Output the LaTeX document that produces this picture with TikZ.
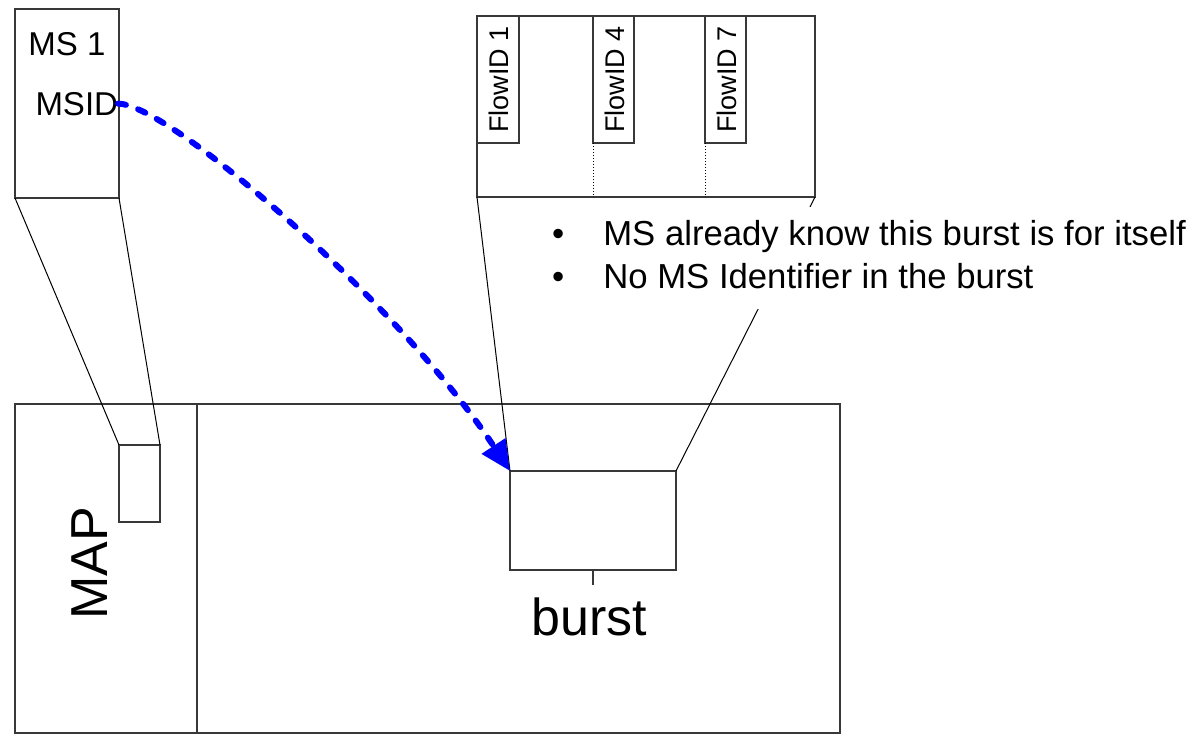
\documentclass[tikz,border=0pt]{standalone}
\usepackage{fontspec}
\setmainfont{Liberation Sans}
\usetikzlibrary{arrows.meta}

\tikzset{
  box/.style={draw=black!78, line width=1.6pt, inner sep=0pt, outer sep=0pt, anchor=north west},
  thin/.style={draw=black, line width=1pt},
  label/.style={inner sep=0pt, outer sep=0pt, font=\fontsize{33}{38}\selectfont},
  flowtext/.style={inner sep=0pt, rotate=90, anchor=base west, font=\fontsize{27}{32}\selectfont},
  bigtext/.style={inner sep=0pt, font=\fontsize{52}{60}\selectfont},
  idlink/.style={draw=blue, line width=6pt, line cap=round,
    dash pattern=on 8pt off 13pt, -{Triangle[length=30pt,width=27pt]}},
}

\begin{document}
\begin{tikzpicture}[x=1pt, y=-1pt]
\useasboundingbox (0,0) rectangle (1203,734);

% mobile station
\node[box, minimum width=104pt, minimum height=189pt] (ms) at (15,9) {};
\node[label, anchor=base] (mstitle) at (67,55) {MS 1};
\node[label, anchor=base east] (msid) at (118,115) {MSID};

% frame: MAP column and burst area
\node[box, minimum width=182pt, minimum height=329pt] (mapcol) at (15,404) {};
\node[box, minimum width=643pt, minimum height=329pt] (area) at (197,404) {};
\node[bigtext, rotate=90, anchor=base] (maptext) at (107,563) {MAP};

% MSID field inside the MAP
\node[box, minimum width=41pt, minimum height=77pt] (field) at (119,445) {};

% burst
\node[box, minimum width=166pt, minimum height=99pt] (burst) at (510,471) {};
\coordinate (tick) at ([yshift=-15pt]burst.south);
\draw[box] (burst.south) -- (tick);
\node[bigtext, anchor=base] (bursttext) at (589,635) {burst};

% burst contents
\node[box, minimum width=338pt, minimum height=181pt] (content) at (477,16) {};
\node[box, minimum width=42pt, minimum height=127pt] (f1) at (477,16) {};
\node[box, minimum width=41pt, minimum height=127pt] (f4) at (593,16) {};
\node[box, minimum width=41pt, minimum height=127pt] (f7) at (705,16) {};
\node[flowtext] (t1) at (508,133) {FlowID 1};
\node[flowtext] (t4) at (624,133) {FlowID 4};
\node[flowtext] (t7) at (736,133) {FlowID 7};
\draw[black, line width=1pt, dotted] (f4.south west) -- (f4.south west |- content.south);
\draw[black, line width=1pt, dotted] (f7.south west) -- (f7.south west |- content.south);

% zoom lines
\draw[thin] (ms.south west) -- (field.north west);
\draw[thin] (ms.south east) -- (field.north east);
\draw[thin] (content.south west) -- (burst.north west);
\draw[thin] (content.south east) -- (burst.north east);

% remarks
\node[fill=white, inner xsep=0pt, inner ysep=8pt, anchor=base west,
      font=\fontsize{34.7}{43}\selectfont] (notes) at (552,245)
  {\begin{tabular}[t]{@{}l@{\hspace{39pt}}l@{}}
    \textbullet & MS already know this burst is for itself\\
    \textbullet & No MS Identifier in the burst
  \end{tabular}};

% identifier link
\draw[idlink] (msid.east) .. controls +(51,0) and +(-110,-167) .. (burst.north west);
\end{tikzpicture}
\end{document}
